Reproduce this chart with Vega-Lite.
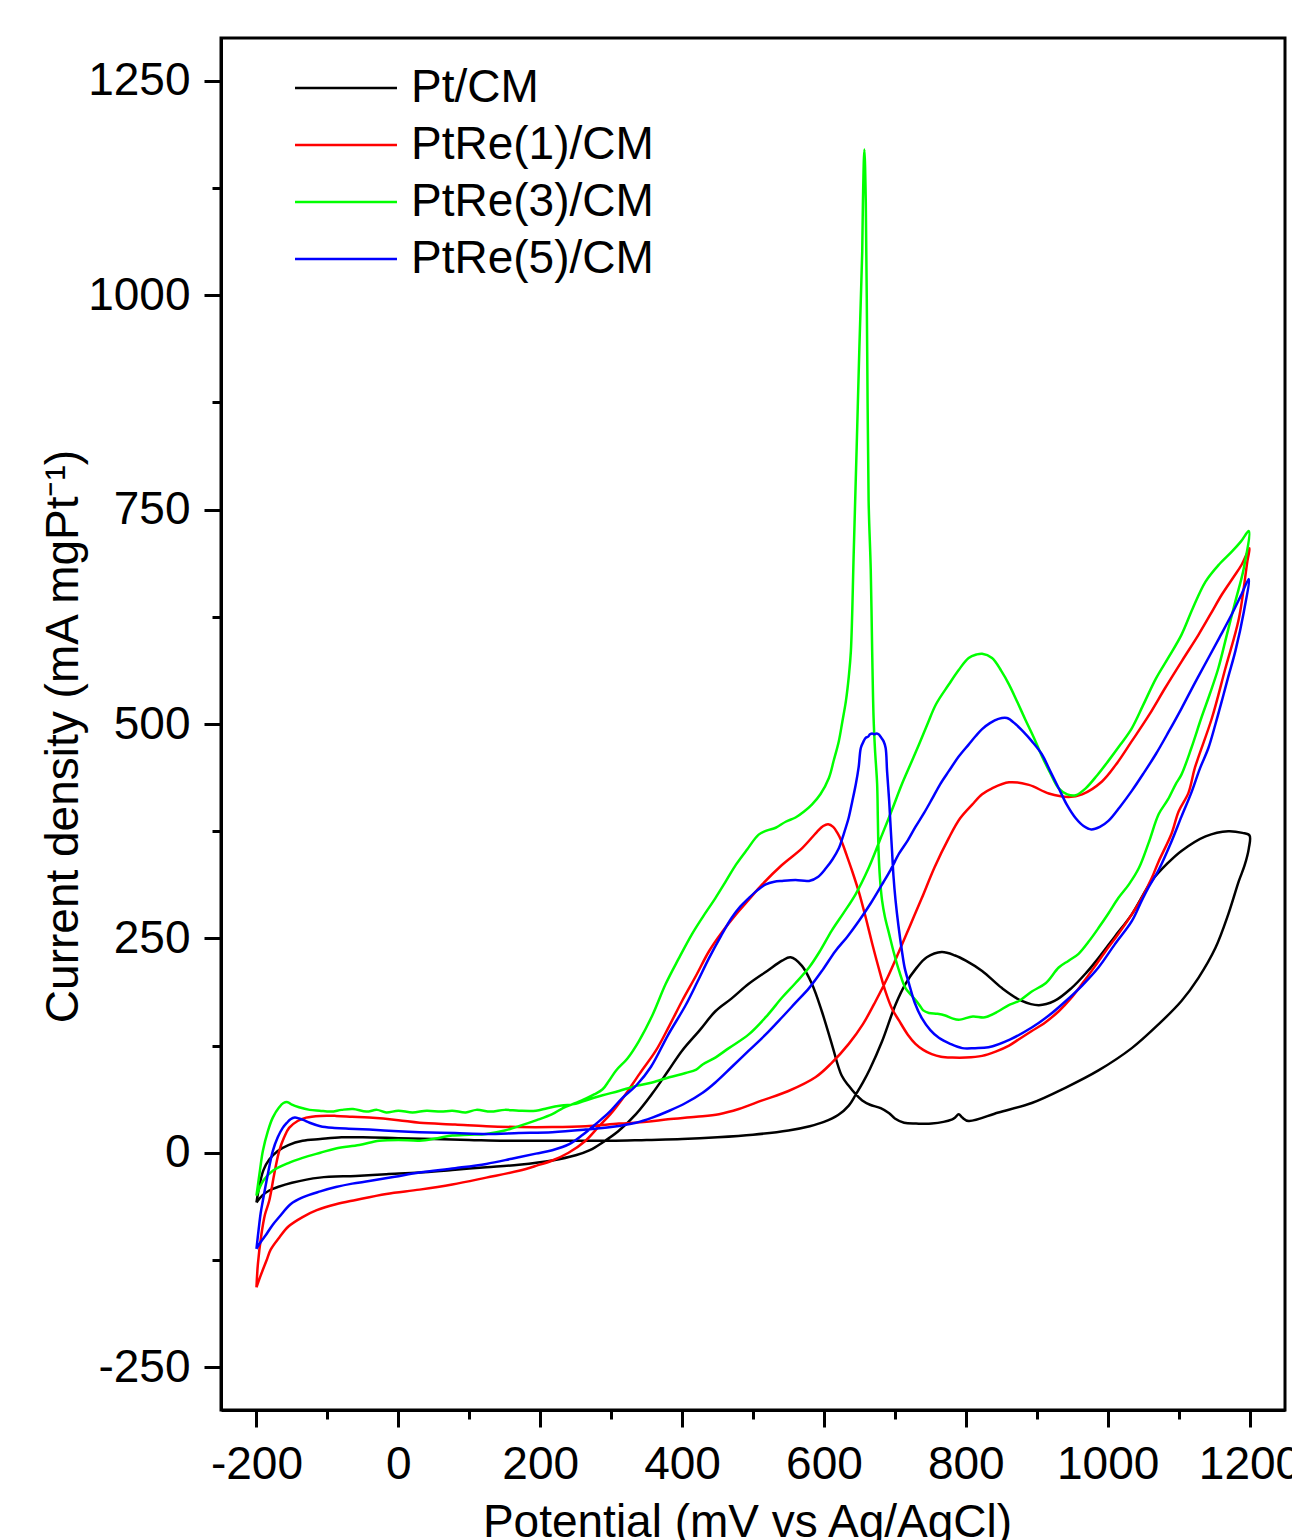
{
"$schema": "https://vega.github.io/schema/vega-lite/v6.json",
"width": 1064, "height": 1372,
"autosize": {"type": "none"},
"padding": {"left": 221, "top": 38, "right": 7, "bottom": 130},
"background": "white",
"config": {"view": {"stroke": "black", "strokeWidth": 3}, "font": "Liberation Sans"},
"datasets": {
"pt": [{"x":-200,"y":-58},{"x":-195,"y":-35},{"x":-190,"y":-20},{"x":-182,"y":-8},{"x":-170,"y":2},{"x":-155,"y":9},{"x":-135,"y":14},{"x":-110,"y":16},{"x":-80,"y":18},{"x":-50,"y":18},{"x":0,"y":17},{"x":50,"y":16},{"x":100,"y":15},{"x":150,"y":14},{"x":200,"y":14},{"x":250,"y":14},{"x":300,"y":14},{"x":350,"y":15},{"x":400,"y":16},{"x":450,"y":18},{"x":500,"y":21},{"x":550,"y":26},{"x":580,"y":31},{"x":600,"y":36},{"x":620,"y":44},{"x":635,"y":55},{"x":645,"y":68},{"x":655,"y":82},{"x":665,"y":98},{"x":682,"y":130},{"x":701,"y":173},{"x":715,"y":197},{"x":730,"y":215},{"x":745,"y":228},{"x":766,"y":234},{"x":785,"y":230},{"x":800,"y":224},{"x":823,"y":212},{"x":851,"y":192},{"x":879,"y":177},{"x":903,"y":172},{"x":925,"y":177},{"x":949,"y":192},{"x":970,"y":210},{"x":987,"y":227},{"x":1010,"y":252},{"x":1034,"y":278},{"x":1062,"y":317},{"x":1085,"y":338},{"x":1104,"y":352},{"x":1138,"y":369},{"x":1170,"y":375},{"x":1190,"y":373},{"x":1200,"y":370},
{"x":1199,"y":355},{"x":1193,"y":335},{"x":1185,"y":317},{"x":1170,"y":278},{"x":1152,"y":239},{"x":1128,"y":204},{"x":1104,"y":177},{"x":1072,"y":150},{"x":1034,"y":122},{"x":987,"y":96},{"x":941,"y":76},{"x":893,"y":58},{"x":846,"y":47},{"x":804,"y":37},{"x":795,"y":41},{"x":790,"y":45},{"x":785,"y":41},{"x":781,"y":39},{"x":752,"y":34},{"x":730,"y":34},{"x":713,"y":35},{"x":700,"y":40},{"x":692,"y":46},{"x":680,"y":52},{"x":665,"y":56},{"x":654,"y":61},{"x":645,"y":68},{"x":635,"y":78},{"x":625,"y":90},{"x":611,"y":127},{"x":597,"y":165},{"x":583,"y":197},{"x":569,"y":218},{"x":553,"y":228},{"x":541,"y":224},{"x":520,"y":212},{"x":494,"y":197},{"x":470,"y":180},{"x":447,"y":165},{"x":425,"y":143},{"x":400,"y":119},{"x":380,"y":95},{"x":358,"y":69},{"x":335,"y":45},{"x":310,"y":25},{"x":288,"y":12},{"x":270,"y":3},{"x":250,"y":-3},{"x":217,"y":-9},{"x":170,"y":-14},{"x":124,"y":-17},{"x":76,"y":-20},{"x":30,"y":-23},{"x":-17,"y":-25},{"x":-60,"y":-27},{"x":-111,"y":-29},{"x":-150,"y":-35},{"x":-170,"y":-40},{"x":-182,"y":-44},{"x":-192,"y":-50},{"x":-200,"y":-58}],
"r1": [{"x":-200,"y":-157},{"x":-198,"y":-130},{"x":-193,"y":-95},{"x":-188,"y":-72},{"x":-182,"y":-56},{"x":-175,"y":-25},{"x":-168,"y":2},{"x":-161,"y":18},{"x":-154,"y":29},{"x":-142,"y":37},{"x":-130,"y":41},{"x":-110,"y":43},{"x":-88,"y":43},{"x":-65,"y":42},{"x":-41,"y":41},{"x":0,"y":38},{"x":30,"y":35},{"x":80,"y":33},{"x":124,"y":31},{"x":170,"y":30},{"x":217,"y":30},{"x":264,"y":31},{"x":311,"y":34},{"x":350,"y":36},{"x":380,"y":39},{"x":420,"y":42},{"x":452,"y":45},{"x":480,"y":51},{"x":513,"y":61},{"x":550,"y":72},{"x":588,"y":88},{"x":610,"y":104},{"x":635,"y":127},{"x":655,"y":150},{"x":673,"y":177},{"x":690,"y":205},{"x":706,"y":235},{"x":722,"y":266},{"x":738,"y":297},{"x":756,"y":333},{"x":776,"y":367},{"x":792,"y":390},{"x":809,"y":406},{"x":823,"y":418},{"x":837,"y":425},{"x":861,"y":432},{"x":889,"y":429},{"x":917,"y":419},{"x":945,"y":415},{"x":964,"y":418},{"x":992,"y":433},{"x":1012,"y":453},{"x":1034,"y":480},{"x":1058,"y":510},{"x":1081,"y":542},{"x":1105,"y":574},{"x":1128,"y":604},{"x":1145,"y":628},{"x":1161,"y":651},{"x":1178,"y":672},{"x":1189,"y":686},{"x":1200,"y":705},
{"x":1197,"y":690},{"x":1185,"y":623},{"x":1166,"y":565},{"x":1147,"y":507},{"x":1123,"y":449},{"x":1114,"y":420},{"x":1100,"y":398},{"x":1090,"y":372},{"x":1072,"y":340},{"x":1062,"y":320},{"x":1048,"y":297},{"x":1034,"y":278},{"x":1015,"y":255},{"x":997,"y":235},{"x":980,"y":215},{"x":964,"y":197},{"x":948,"y":180},{"x":931,"y":165},{"x":912,"y":152},{"x":893,"y":142},{"x":876,"y":133},{"x":861,"y":125},{"x":842,"y":118},{"x":823,"y":113},{"x":800,"y":111},{"x":781,"y":111},{"x":765,"y":112},{"x":752,"y":115},{"x":740,"y":120},{"x":729,"y":127},{"x":718,"y":138},{"x":706,"y":154},{"x":696,"y":168},{"x":686,"y":190},{"x":677,"y":216},{"x":668,"y":244},{"x":659,"y":274},{"x":650,"y":302},{"x":640,"y":328},{"x":632,"y":347},{"x":625,"y":363},{"x":619,"y":373},{"x":613,"y":380},{"x":606,"y":383},{"x":599,"y":381},{"x":590,"y":374},{"x":569,"y":355},{"x":540,"y":335},{"x":513,"y":313},{"x":495,"y":296},{"x":476,"y":278},{"x":457,"y":258},{"x":438,"y":235},{"x":420,"y":207},{"x":400,"y":177},{"x":382,"y":148},{"x":363,"y":119},{"x":340,"y":92},{"x":316,"y":63},{"x":299,"y":45},{"x":283,"y":31},{"x":264,"y":14},{"x":240,"y":0},{"x":217,"y":-9},{"x":195,"y":-15},{"x":170,"y":-21},{"x":124,"y":-29},{"x":76,"y":-37},{"x":30,"y":-43},{"x":-17,"y":-48},{"x":-60,"y":-55},{"x":-88,"y":-60},{"x":-115,"y":-67},{"x":-135,"y":-75},{"x":-155,"y":-86},{"x":-168,"y":-99},{"x":-180,"y":-113},{"x":-186,"y":-126},{"x":-194,"y":-143},{"x":-200,"y":-157}],
"r3": [{"x":-200,"y":-50},{"x":-195,"y":-20},{"x":-191,"y":2},{"x":-184,"y":25},{"x":-177,"y":41},{"x":-168,"y":53},{"x":-162,"y":58},{"x":-156,"y":59},{"x":-150,"y":56},{"x":-140,"y":53},{"x":-125,"y":50},{"x":-111,"y":49},{"x":-95,"y":48},{"x":-80,"y":50},{"x":-64,"y":51},{"x":-45,"y":48},{"x":-30,"y":50},{"x":-17,"y":47},{"x":0,"y":49},{"x":20,"y":47},{"x":40,"y":49},{"x":60,"y":48},{"x":76,"y":49},{"x":95,"y":47},{"x":110,"y":50},{"x":130,"y":48},{"x":150,"y":50},{"x":170,"y":49},{"x":194,"y":49},{"x":210,"y":52},{"x":230,"y":55},{"x":250,"y":57},{"x":264,"y":61},{"x":288,"y":67},{"x":311,"y":72},{"x":335,"y":78},{"x":358,"y":82},{"x":382,"y":88},{"x":405,"y":93},{"x":420,"y":97},{"x":429,"y":103},{"x":445,"y":110},{"x":466,"y":122},{"x":494,"y":138},{"x":520,"y":160},{"x":541,"y":181},{"x":560,"y":198},{"x":579,"y":216},{"x":595,"y":236},{"x":611,"y":259},{"x":628,"y":280},{"x":645,"y":302},{"x":663,"y":332},{"x":682,"y":371},{"x":696,"y":400},{"x":710,"y":430},{"x":722,"y":453},{"x":734,"y":476},{"x":746,"y":500},{"x":758,"y":523},{"x":776,"y":546},{"x":790,"y":563},{"x":804,"y":577},{"x":815,"y":581},{"x":823,"y":582},{"x":837,"y":577},{"x":850,"y":562},{"x":861,"y":546},{"x":873,"y":525},{"x":884,"y":505},{"x":896,"y":484},{"x":907,"y":463},{"x":919,"y":443},{"x":931,"y":425},{"x":943,"y":418},{"x":955,"y":417},{"x":969,"y":425},{"x":985,"y":440},{"x":1001,"y":457},{"x":1018,"y":476},{"x":1034,"y":495},{"x":1050,"y":522},{"x":1068,"y":553},{"x":1086,"y":578},{"x":1104,"y":604},{"x":1120,"y":635},{"x":1138,"y":666},{"x":1157,"y":686},{"x":1175,"y":701},{"x":1188,"y":713},{"x":1199,"y":725},
{"x":1192,"y":682},{"x":1180,"y":643},{"x":1168,"y":604},{"x":1156,"y":565},{"x":1144,"y":535},{"x":1132,"y":507},{"x":1118,"y":472},{"x":1104,"y":441},{"x":1096,"y":430},{"x":1085,"y":412},{"x":1072,"y":395},{"x":1058,"y":362},{"x":1044,"y":332},{"x":1030,"y":313},{"x":1015,"y":297},{"x":1001,"y":279},{"x":987,"y":262},{"x":973,"y":246},{"x":959,"y":232},{"x":945,"y":224},{"x":931,"y":216},{"x":913,"y":198},{"x":893,"y":188},{"x":875,"y":177},{"x":860,"y":172},{"x":846,"y":165},{"x":827,"y":158},{"x":810,"y":159},{"x":790,"y":155},{"x":780,"y":157},{"x":771,"y":160},{"x":760,"y":162},{"x":748,"y":163},{"x":740,"y":166},{"x":734,"y":173},{"x":724,"y":183},{"x":715,"y":192},{"x":706,"y":212},{"x":698,"y":235},{"x":692,"y":255},{"x":686,"y":275},{"x":682,"y":294},{"x":679,"y":320},{"x":677,"y":352},{"x":676,"y":390},{"x":675,"y":430},{"x":672,"y":470},{"x":670,"y":507},{"x":668,"y":585},{"x":666,"y":680},{"x":663,"y":760},{"x":661,"y":934},{"x":659,"y":1109},{"x":657,"y":1170},{"x":655,"y":1110},{"x":654,"y":1051},{"x":650,"y":940},{"x":646,"y":818},{"x":642,"y":700},{"x":638,"y":585},{"x":635,"y":555},{"x":631,"y":527},{"x":626,"y":503},{"x":621,"y":480},{"x":614,"y":458},{"x":607,"y":437},{"x":595,"y":418},{"x":583,"y":406},{"x":572,"y":398},{"x":560,"y":391},{"x":546,"y":386},{"x":532,"y":379},{"x":520,"y":376},{"x":508,"y":371},{"x":492,"y":354},{"x":476,"y":336},{"x":462,"y":317},{"x":447,"y":297},{"x":430,"y":276},{"x":414,"y":255},{"x":395,"y":226},{"x":377,"y":197},{"x":358,"y":160},{"x":339,"y":130},{"x":323,"y":110},{"x":307,"y":96},{"x":297,"y":84},{"x":288,"y":74},{"x":276,"y":68},{"x":264,"y":63},{"x":250,"y":58},{"x":232,"y":52},{"x":217,"y":45},{"x":195,"y":38},{"x":170,"y":31},{"x":150,"y":26},{"x":124,"y":22},{"x":100,"y":21},{"x":76,"y":20},{"x":55,"y":17},{"x":30,"y":14},{"x":0,"y":15},{"x":-27,"y":14},{"x":-55,"y":9},{"x":-88,"y":5},{"x":-110,"y":0},{"x":-135,"y":-6},{"x":-155,"y":-12},{"x":-177,"y":-21},{"x":-190,"y":-32},{"x":-200,"y":-50}],
"r5": [{"x":-200,"y":-112},{"x":-197,"y":-90},{"x":-194,"y":-70},{"x":-191,"y":-56},{"x":-187,"y":-38},{"x":-184,"y":-25},{"x":-177,"y":2},{"x":-170,"y":18},{"x":-163,"y":29},{"x":-157,"y":35},{"x":-152,"y":39},{"x":-146,"y":41},{"x":-140,"y":40},{"x":-133,"y":38},{"x":-125,"y":35},{"x":-110,"y":31},{"x":-90,"y":29},{"x":-70,"y":28},{"x":-41,"y":27},{"x":0,"y":25},{"x":30,"y":24},{"x":80,"y":23},{"x":124,"y":22},{"x":170,"y":23},{"x":217,"y":24},{"x":264,"y":27},{"x":300,"y":30},{"x":335,"y":35},{"x":358,"y":41},{"x":382,"y":49},{"x":405,"y":58},{"x":429,"y":70},{"x":447,"y":82},{"x":470,"y":100},{"x":494,"y":119},{"x":518,"y":138},{"x":541,"y":158},{"x":560,"y":175},{"x":579,"y":192},{"x":598,"y":213},{"x":616,"y":235},{"x":633,"y":252},{"x":649,"y":270},{"x":666,"y":291},{"x":682,"y":313},{"x":694,"y":330},{"x":706,"y":349},{"x":718,"y":364},{"x":729,"y":380},{"x":741,"y":396},{"x":752,"y":412},{"x":764,"y":430},{"x":776,"y":445},{"x":790,"y":462},{"x":804,"y":476},{"x":814,"y":486},{"x":823,"y":494},{"x":834,"y":501},{"x":846,"y":506},{"x":858,"y":507},{"x":870,"y":500},{"x":881,"y":491},{"x":893,"y":480},{"x":907,"y":465},{"x":919,"y":445},{"x":931,"y":425},{"x":943,"y":405},{"x":955,"y":390},{"x":966,"y":381},{"x":977,"y":377},{"x":989,"y":380},{"x":1001,"y":387},{"x":1017,"y":403},{"x":1034,"y":422},{"x":1051,"y":443},{"x":1068,"y":465},{"x":1086,"y":491},{"x":1104,"y":518},{"x":1123,"y":548},{"x":1142,"y":577},{"x":1159,"y":603},{"x":1175,"y":628},{"x":1188,"y":650},{"x":1199,"y":669},
{"x":1192,"y":631},{"x":1180,"y":585},{"x":1170,"y":555},{"x":1161,"y":527},{"x":1152,"y":500},{"x":1142,"y":472},{"x":1130,"y":448},{"x":1118,"y":420},{"x":1104,"y":392},{"x":1090,"y":363},{"x":1072,"y":330},{"x":1058,"y":310},{"x":1048,"y":294},{"x":1034,"y":270},{"x":1010,"y":243},{"x":987,"y":216},{"x":964,"y":195},{"x":941,"y":177},{"x":917,"y":160},{"x":893,"y":146},{"x":862,"y":132},{"x":832,"y":123},{"x":813,"y":122},{"x":795,"y":122},{"x":778,"y":127},{"x":762,"y":134},{"x":750,"y":143},{"x":738,"y":157},{"x":728,"y":175},{"x":720,"y":197},{"x":714,"y":215},{"x":710,"y":235},{"x":705,"y":265},{"x":701,"y":294},{"x":698,"y":323},{"x":696,"y":352},{"x":694,"y":380},{"x":692,"y":410},{"x":689,"y":445},{"x":687,"y":472},{"x":684,"y":480},{"x":680,"y":485},{"x":677,"y":488},{"x":674,"y":489},{"x":671,"y":488},{"x":668,"y":489},{"x":665,"y":488},{"x":662,"y":485},{"x":659,"y":484},{"x":656,"y":480},{"x":652,"y":472},{"x":649,"y":450},{"x":645,"y":430},{"x":640,"y":410},{"x":635,"y":391},{"x":628,"y":372},{"x":621,"y":355},{"x":612,"y":342},{"x":603,"y":332},{"x":592,"y":322},{"x":579,"y":317},{"x":560,"y":318},{"x":541,"y":317},{"x":530,"y":316},{"x":518,"y":313},{"x":506,"y":306},{"x":494,"y":297},{"x":482,"y":287},{"x":470,"y":274},{"x":455,"y":253},{"x":438,"y":227},{"x":422,"y":200},{"x":405,"y":172},{"x":380,"y":137},{"x":356,"y":100},{"x":336,"y":79},{"x":316,"y":64},{"x":297,"y":47},{"x":279,"y":34},{"x":260,"y":21},{"x":241,"y":10},{"x":217,"y":3},{"x":194,"y":-1},{"x":160,"y":-7},{"x":124,"y":-13},{"x":80,"y":-18},{"x":30,"y":-23},{"x":-5,"y":-28},{"x":-41,"y":-33},{"x":-65,"y":-36},{"x":-88,"y":-40},{"x":-110,"y":-45},{"x":-135,"y":-52},{"x":-152,"y":-60},{"x":-168,"y":-75},{"x":-178,"y":-85},{"x":-186,"y":-95},{"x":-194,"y":-104},{"x":-200,"y":-112}]
},
"encoding": {
  "x": {"field": "x", "type": "quantitative",
    "scale": {"domain": [-250, 1250], "nice": false, "zero": false},
    "axis": {"title": "Potential (mV vs Ag/AgCl)",
      "values": [-200,-100,0,100,200,300,400,500,600,700,800,900,1000,1100,1200],
      "labelExpr": "datum.value % 200 === 0 ? '' + datum.value : ''",
      "tickSize": {"condition": {"test": "datum.value % 200 === 0", "value": 17}, "value": 9},
      "tickWidth": 3, "tickColor": "black", "domainColor": "black", "domainWidth": 3,
      "labelFontSize": 46, "labelColor": "black", "labelPadding": 15, "labelFont": "Liberation Sans",
      "labelFlush": false, "labelOverlap": false, "grid": false,
      "titleFontSize": 46, "titleFontWeight": "normal", "titleColor": "black", "titleFont": "Liberation Sans",
      "titleX": 526, "titleY": 126, "titleBaseline": "alphabetic", "titleAlign": "center"}},
  "y": {"field": "y", "type": "quantitative",
    "scale": {"domain": [-300, 1300], "nice": false, "zero": false},
    "axis": {"title": "Current density (mA mgPt⁻¹)",
      "values": [-250,-125,0,125,250,375,500,625,750,875,1000,1125,1250],
      "labelExpr": "datum.value % 250 === 0 ? '' + datum.value : ''",
      "tickSize": {"condition": {"test": "datum.value % 250 === 0", "value": 17}, "value": 9},
      "tickWidth": 3, "tickColor": "black", "domainColor": "black", "domainWidth": 3,
      "labelFontSize": 46, "labelColor": "black", "labelPadding": 14, "labelFont": "Liberation Sans",
      "labelFlush": false, "labelOverlap": false, "grid": false,
      "titleFontSize": 46, "titleFontWeight": "normal", "titleColor": "black", "titleFont": "Liberation Sans",
      "titleAngle": -90, "titleX": -144, "titleY": 698, "titleBaseline": "alphabetic", "titleAlign": "center"}},
  "order": {"value": null}
},
"layer": [
{"data": {"name": "pt"}, "mark": {"type": "line", "strokeWidth": 2.5, "interpolate": "catmull-rom"},
 "encoding": {"color": {"datum": "Pt/CM", "type": "nominal",
   "scale": {"domain": ["Pt/CM", "PtRe(1)/CM", "PtRe(3)/CM", "PtRe(5)/CM"], "range": ["#000000", "#ff0000", "#00ff00", "#0000ff"]},
   "legend": {"orient": "none", "legendX": 102, "legendY": 27, "title": null, "padding": 0,
     "symbolType": "M-4,0H4", "symbolSize": 650, "symbolStrokeWidth": 2.5, "labelLimit": 0,
     "labelFontSize": 46, "labelFont": "Liberation Sans", "labelColor": "black", "labelOffset": 42, "rowPadding": 11}}}},
{"data": {"name": "r1"}, "mark": {"type": "line", "strokeWidth": 2.5, "interpolate": "catmull-rom"}, "encoding": {"color": {"datum": "PtRe(1)/CM", "type": "nominal"}}},
{"data": {"name": "r3"}, "mark": {"type": "line", "strokeWidth": 2.5, "interpolate": "catmull-rom"}, "encoding": {"color": {"datum": "PtRe(3)/CM", "type": "nominal"}}},
{"data": {"name": "r5"}, "mark": {"type": "line", "strokeWidth": 2.5, "interpolate": "catmull-rom"}, "encoding": {"color": {"datum": "PtRe(5)/CM", "type": "nominal"}}}
]
}
